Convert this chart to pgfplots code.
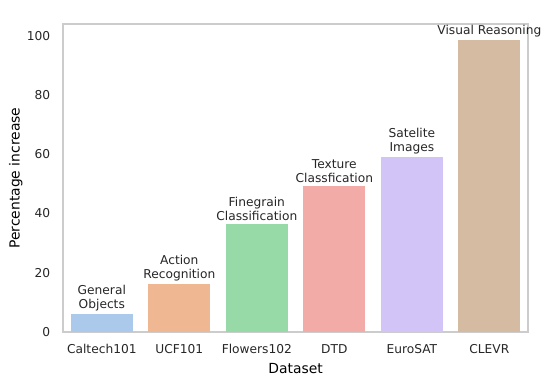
\documentclass[border=0pt]{standalone}
\usepackage{pgfplots}
\pgfplotsset{compat=1.18}
\usepackage{fontspec}
\setmainfont{DejaVu Sans}
\definecolor{txt}{HTML}{262626}
\definecolor{frame}{HTML}{CCCCCC}
\definecolor{c1}{HTML}{ABC9EA}
\definecolor{c2}{HTML}{EFB792}
\definecolor{c3}{HTML}{98DAA7}
\definecolor{c4}{HTML}{F3ABA8}
\definecolor{c5}{HTML}{D3C4F7}
\definecolor{c6}{HTML}{D6BBA3}
\begin{document}
\begin{tikzpicture}
\useasboundingbox (-45.4pt,-38.2pt) rectangle (352pt,239.1pt);
\begin{axis}[
  scale only axis,
  width=334.8pt, height=221.8pt,
  ybar, bar width=0.8, bar shift=0pt,
  xmin=-0.5, xmax=5.5, ymin=0, ymax=103.9,
  xtick={0,1,2,3,4,5},
  xticklabels={Caltech101,UCF101,Flowers102,DTD,EuroSAT,CLEVR},
  ytick={0,20,40,60,80,100},
  major tick length=0pt,
  axis line style={frame, line width=0.9pt},
  /pgf/number format/assume math mode=true,
  tick label style={font=\fontsize{8.8}{10}\selectfont, text=txt},
  xticklabel style={yshift=-5.5pt},
  yticklabel style={xshift=-5.7pt},
  label style={font=\fontsize{9.6}{11}\selectfont, text=txt},
  every axis x label/.style={at={([yshift=-25.9pt]axis description cs:0.5,0)}, anchor=center},
  every axis y label/.style={at={([xshift=-34pt]axis description cs:0,0.5)}, rotate=90, anchor=center},
  xlabel={Dataset},
  ylabel={Percentage increase},
  point meta=explicit symbolic,
  nodes near coords,
  every node near coord/.append style={font=\fontsize{8.8}{10.2}\selectfont, text=txt, align=center, anchor=south, inner sep=0pt, yshift=1.8pt},
  clip=false,
]
\addplot[fill=c1, draw=none] coordinates {(0,6.1) [General\\Objects]};
\addplot[fill=c2, draw=none] coordinates {(1,16.2) [Action\\Recognition]};
\addplot[fill=c3, draw=none] coordinates {(2,36.5) [Finegrain\\Classification]};
\addplot[fill=c4, draw=none] coordinates {(3,49.3) [Texture\\Classfication]};
\addplot[fill=c5, draw=none] coordinates {(4,59.1) [Satelite\\Images]};
\addplot[fill=c6, draw=none] coordinates {(5,98.6) [Visual Reasoning]};
\end{axis}
\end{tikzpicture}
\end{document}
